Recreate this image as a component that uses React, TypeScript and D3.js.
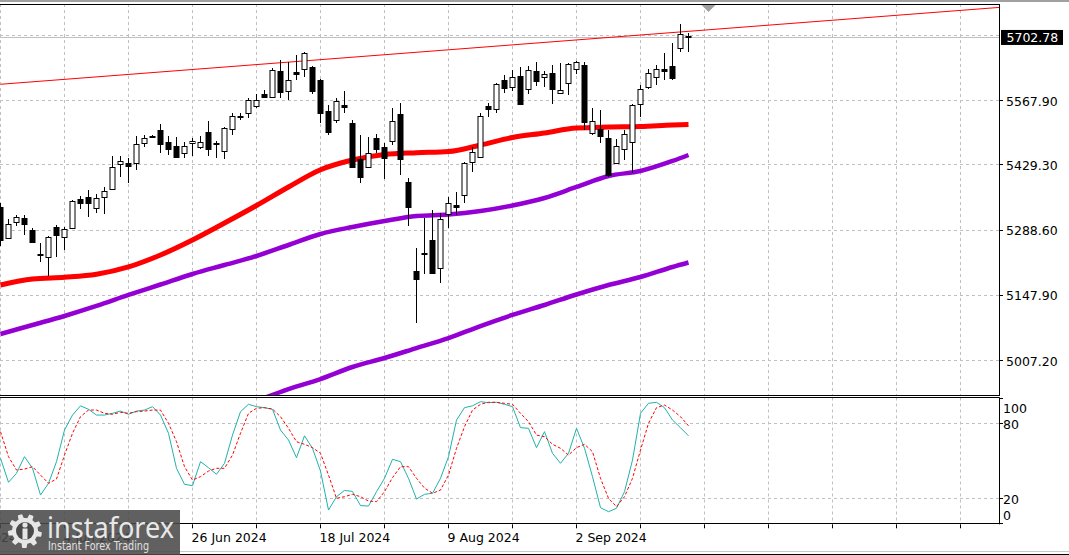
import React from 'react';
import * as d3 from 'd3';

// ---------- DATA ----------
const opens = [5337.1,5270.3,5304.8,5313.4,5287.6,5235.8,5229.3,5294.0,5272.5,5291.9,
5354.4,5358.7,5335.0,5358.7,5376.0,5429.9,5432.0,5432.0,5475.2,5490.3,
5503.2,5477.4,5468.7,5453.6,5475.2,5466.6,5498.9,5475.2,5457.9,5505.4,
5533.4,5539.9,5555.0,5580.8,5574.4,5630.4,5587.3,5628.3,5634.8,5639.1,
5611.0,5544.2,5524.8,5557.1,5518.3,5440.7,5423.4,5486.0,5466.6,5479.5,
5537.7,5391.1,5199.1,5237.9,5266.0,5205.6,5322.1,5341.5,5363.1,5434.2,
5445.0,5555.0,5548.5,5611.0,5595.9,5619.7,5591.6,5630.4,5617.5,5626.1,
5583.0,5604.6,5634.8,5643.4,5496.8,5505.4,5486.0,5432.0,5462.2,5477.4,
5559.3,5595.9,5617.5,5634.8,5641.2,5680.0,5705.9];
const highs = [5345.8,5311.3,5319.9,5319.9,5291.9,5259.5,5274.6,5298.3,5294.0,5352.3,
5360.9,5373.8,5365.2,5380.3,5447.1,5447.1,5442.8,5490.3,5492.5,5492.5,
5516.1,5490.3,5488.1,5477.4,5486.0,5490.3,5522.6,5479.5,5509.7,5539.9,
5539.9,5572.2,5580.8,5589.5,5636.9,5654.2,5649.8,5664.9,5671.4,5641.2,
5613.2,5557.1,5572.2,5587.3,5524.8,5492.5,5488.1,5494.6,5475.2,5550.6,
5561.4,5399.7,5248.7,5313.4,5330.7,5324.2,5358.7,5369.5,5434.2,5466.6,
5539.9,5561.4,5604.6,5621.8,5632.6,5639.1,5641.2,5649.8,5630.4,5643.4,
5647.7,5647.7,5652.0,5649.8,5550.6,5546.4,5503.2,5483.8,5503.2,5559.3,
5600.2,5634.8,5643.4,5669.3,5690.8,5731.8,5712.4];
const lows = [5253.0,5268.1,5296.2,5276.8,5259.5,5218.5,5188.3,5229.3,5244.4,5289.7,
5332.8,5315.6,5324.2,5322.1,5373.8,5401.9,5388.9,5417.0,5466.6,5486.0,
5453.6,5449.3,5442.8,5442.8,5447.1,5462.2,5447.1,5442.8,5440.7,5492.5,
5524.8,5529.1,5550.6,5572.2,5574.4,5572.2,5567.9,5611.0,5617.5,5580.8,
5518.3,5492.5,5518.3,5539.9,5421.3,5388.9,5421.3,5453.6,5397.5,5470.9,
5406.2,5296.2,5087.0,5192.7,5194.8,5173.2,5291.9,5319.9,5345.8,5412.6,
5445.0,5531.2,5539.9,5583.0,5587.3,5557.1,5580.8,5598.1,5595.9,5559.3,
5580.8,5578.7,5624.0,5503.2,5492.5,5475.2,5401.9,5432.0,5438.5,5410.5,
5531.2,5591.6,5600.2,5611.0,5611.0,5671.4,5671.4];
const closes = [5266.0,5300.5,5315.6,5300.5,5261.7,5233.6,5272.5,5276.8,5289.7,5350.1,
5345.8,5345.8,5356.6,5371.7,5423.4,5436.4,5425.6,5473.0,5486.0,5488.1,
5473.0,5462.2,5445.0,5468.7,5479.5,5477.4,5462.2,5473.0,5507.5,5533.4,
5531.2,5567.9,5567.9,5574.4,5632.6,5585.2,5611.0,5624.0,5669.3,5587.3,
5539.9,5498.9,5565.7,5552.8,5423.4,5401.9,5453.6,5462.2,5442.8,5522.6,
5440.7,5337.1,5181.9,5235.8,5194.8,5311.3,5345.8,5337.1,5432.0,5455.8,
5533.4,5548.5,5602.4,5593.8,5617.5,5559.3,5632.6,5608.9,5624.0,5591.6,
5589.5,5645.5,5649.8,5520.5,5522.6,5490.3,5406.2,5468.7,5494.6,5557.1,
5591.6,5626.1,5634.8,5630.4,5615.3,5710.2,5702.78];

const maIdx = [0,4,8,12,16,20,24,28,32,36,40,44,48,52,56,60,64,68,72,76,80,84,86];
const redMA = [5168.9,5181.9,5185.6,5192.0,5207.8,5233.6,5266.0,5302.6,5340.4,5380.3,5417.5,5438.5,5450.4,5454.2,5456.8,5470.9,5487.0,5496.8,5507.5,5509.7,5510.8,5514.0,5515.1];
const purpleMA1 = [5063.3,5082.7,5102.1,5123.7,5147.4,5170.0,5192.7,5212.1,5231.5,5255.2,5278.9,5294.0,5306.9,5317.7,5321.0,5328.5,5340.4,5356.6,5380.3,5404.0,5414.8,5436.4,5449.3];
const ma2Idx = [32,36,40,44,48,52,56,60,64,68,72,76,80,84,86];
const purpleMA2 = [4918.8,4944.6,4966.2,4992.1,5011.5,5033.0,5054.6,5080.5,5104.3,5125.8,5148.5,5169.0,5186.2,5207.8,5217.5];

const stochMain = [52,32.8,40,53.3,44,22.6,32,49.3,74.6,86.6,
94,91.2,86.6,86.6,88,89.8,87.2,89.8,90.6,93.3,
86.6,72,44,31.2,30.1,49.3,44.5,39.2,48,70.6,
89.3,95.2,93.3,92.5,91.2,74.6,66.6,52.5,70,60,
41.8,10.6,21.3,26.3,25.5,14.2,13.8,25.3,36,51.2,
49.3,36,19.4,23.2,24,36,53.3,82.6,92.5,94,
97.3,96.5,96.8,95.2,93.3,76.5,76,60.5,73.3,56,
48,56,76,60,37.3,12.5,9.3,12,25.3,50.6,
88,96,96.8,92.5,82.6,76.5,70];
const stochSignal = [73.3,53.3,42.6,43.4,45.3,38.6,32,35.4,54.6,72,
85.3,90.6,90.6,88,87.2,88.8,88,89.3,89.8,90.6,
90.6,80,65.3,45.3,34.6,37.3,41.8,44,44,54.6,
72,88,92,92.5,91.4,85.3,76,65.3,63.2,60.5,
56,38.6,20,21.3,23.2,21.3,17.8,17.3,25.3,36.5,
45.3,45.3,36,28.2,24,26.6,38.6,60,77.3,90.6,
95.2,96.8,96.8,96,95.2,88,81.3,70.6,69.3,63.2,
60,54.6,60.5,63.2,57.3,36,20,13.3,21.3,36,
58.6,80,92.5,94.6,90.6,85.3,78];

const trendIdx = [0, 86];
const trendVals = [5601.8, 5716.0];

const priceTicks = [5567.9, 5429.3, 5288.6, 5147.9, 5007.2];
const priceTickLabels = ['5567.90', '5429.30', '5288.60', '5147.90', '5007.20'];
const priceGridTop = 5708.1;
const lastPrice = 5702.78;
const lastPriceLabel = '5702.78';

const dateIdx = [-8, 8, 24, 40, 56, 72];
const dateLabels = ['13 May 2024', '4 Jun 2024', '26 Jun 2024', '18 Jul 2024', '9 Aug 2024', '2 Sep 2024'];
const oscLevels = [80, 20];
const oscLabelVals = ['100', '80', '20', '0'];

// ---------- LAYOUT ----------
const W = 1069, H = 555;
const R = 999;
const mainTop = 4, mainBottom = 395;
const oscTop = 397.5, oscBottom = 523.3;
const FONT = '"DejaVu Sans", sans-serif';
const FS = 12.5;

function gearPath(cx: number, cy: number, ro: number, ri: number, n: number) {
  const pts: [number, number][] = [];
  for (let k = 0; k < n; k++) {
    const a0 = (k / n) * Math.PI * 2;
    const step = (Math.PI * 2) / n;
    const angs = [a0, a0 + step * 0.12, a0 + step * 0.38, a0 + step * 0.5, a0 + step * 0.62, a0 + step * 0.88];
    const rads = [ri, ro, ro, ro, ri, ri];
    angs.forEach((a, j) => pts.push([cx + rads[j] * Math.cos(a), cy + rads[j] * Math.sin(a)]));
  }
  return 'M' + pts.map(p => p[0].toFixed(1) + ',' + p[1].toFixed(1)).join('L') + 'Z';
}

export default function App() {
  const x = d3.scaleLinear().domain([0, 1]).range([0.5, 8.5]);
  const y = d3.scaleLinear().domain([5007.2, 5567.9]).range([360, 100]);
  const yo = d3.scaleLinear().domain([0, 100]).range([523.3, 398.3]);

  const gridX: number[] = [];
  for (let i = 0; i <= 124; i += 8) gridX.push(i);

  const lineMA = d3.line<number>().x((_, k) => x(maIdx[k])).y(v => y(v)).curve(d3.curveMonotoneX);
  const lineMA2 = d3.line<number>().x((_, k) => x(ma2Idx[k])).y(v => y(v)).curve(d3.curveMonotoneX);
  const lineOsc = d3.line<number>().x((_, k) => x(k)).y(v => yo(v));

  const slope = (trendVals[1] - trendVals[0]) / (trendIdx[1] - trendIdx[0]);
  const endIdx = x.invert(R);
  const trendEnd = trendVals[0] + slope * (endIdx - trendIdx[0]);

  const lastY = y(lastPrice);
  const shiftX = x(88.5);

  return (
    <svg width={W} height={H} style={{ position: 'absolute', left: 0, top: 0, background: '#fff' }} fontFamily={FONT}>
      <defs>
        <clipPath id="mainClip"><rect x={0} y={mainTop} width={R} height={mainBottom - mainTop} /></clipPath>
        <clipPath id="oscClip"><rect x={0} y={oscTop} width={R} height={oscBottom - oscTop} /></clipPath>
      </defs>
      <rect x={0} y={0} width={W} height={H} fill="#fff" />
      <rect x={0} y={0} width={W} height={2} fill="#a0a0a0" />

      {/* grid main */}
      <g stroke="#c0c0c0" strokeWidth={1} strokeDasharray="3,3">
        {gridX.map(i => (
          <line key={'gv' + i} x1={x(i)} x2={x(i)} y1={mainTop} y2={mainBottom} />
        ))}
        {[priceGridTop, ...priceTicks].map(p => (
          <line key={'gh' + p} x1={0} x2={R} y1={Math.round(y(p)) + 0.5} y2={Math.round(y(p)) + 0.5} />
        ))}
        {gridX.map(i => (
          <line key={'gvo' + i} x1={x(i)} x2={x(i)} y1={oscTop} y2={oscBottom} />
        ))}
        {oscLevels.map(l => (
          <line key={'gho' + l} x1={0} x2={R} y1={Math.round(yo(l)) + 0.5} y2={Math.round(yo(l)) + 0.5} />
        ))}
      </g>

      {/* last price line */}
      <line x1={0} x2={R} y1={Math.round(lastY) + 0.5} y2={Math.round(lastY) + 0.5} stroke="#c0c0c0" strokeWidth={1} />

      <g clipPath="url(#mainClip)">
        {/* trend line */}
        <line x1={x(0)} y1={y(trendVals[0])} x2={R} y2={y(trendEnd)} stroke="#ff0000" strokeWidth={1} />
        {/* moving averages */}
        <path d={lineMA2(purpleMA2) || ''} fill="none" stroke="#9400d3" strokeWidth={4.5} />
        <path d={lineMA(purpleMA1) || ''} fill="none" stroke="#9400d3" strokeWidth={4.5} />
        <path d={lineMA(redMA) || ''} fill="none" stroke="#ff0000" strokeWidth={5} />
        {/* candles */}
        {opens.map((o, i) => {
          const c = closes[i];
          const cx = Math.round(x(i) - 0.5) + 0.5;
          const top = Math.round(y(Math.max(o, c)));
          const bot = Math.round(y(Math.min(o, c)));
          const bull = c > o;
          return (
            <g key={'c' + i}>
              <line x1={cx} x2={cx} y1={Math.round(y(highs[i]))} y2={Math.round(y(lows[i]))} stroke="#000" strokeWidth={1} />
              <rect x={cx - 2.5} y={top + 0.5} width={5} height={Math.max(bot - top, 1)} fill={bull ? '#fff' : '#000'} stroke="#000" strokeWidth={1} />
            </g>
          );
        })}
      </g>

      {/* chart shift marker */}
      <polygon points={`${shiftX - 7},${mainTop + 1} ${shiftX + 7},${mainTop + 1} ${shiftX},${mainTop + 8}`} fill="#a0a0a0" />

      {/* oscillator */}
      <g clipPath="url(#oscClip)">
        <path d={lineOsc(stochMain) || ''} fill="none" stroke="#20b2aa" strokeWidth={1} />
        <path d={lineOsc(stochSignal) || ''} fill="none" stroke="#ff0000" strokeWidth={1} strokeDasharray="3,2" />
      </g>

      {/* frames */}
      <g stroke="#000" strokeWidth={1} fill="none">
        <line x1={0} x2={R + 0.5} y1={mainTop + 0.5} y2={mainTop + 0.5} />
        <line x1={0} x2={R + 0.5} y1={mainBottom + 0.5} y2={mainBottom + 0.5} />
        <line x1={R + 0.5} x2={R + 0.5} y1={mainTop} y2={mainBottom + 1} />
        <line x1={0} x2={R + 0.5} y1={oscTop} y2={oscTop} />
        <line x1={0} x2={R + 0.5} y1={Math.round(oscBottom) + 0.5} y2={Math.round(oscBottom) + 0.5} />
        <line x1={R + 0.5} x2={R + 0.5} y1={oscTop} y2={oscBottom + 1} />
        {priceTicks.map(p => (
          <line key={'pt' + p} x1={R} x2={R + 4} y1={Math.round(y(p)) + 0.5} y2={Math.round(y(p)) + 0.5} />
        ))}
        {[100, 80, 20, 0].map(l => (
          <line key={'ot' + l} x1={R} x2={R + 4} y1={Math.round(yo(l)) + 0.5} y2={Math.round(yo(l)) + 0.5} />
        ))}
        {gridX.map(i => (
          <line key={'dt' + i} x1={x(i)} x2={x(i)} y1={oscBottom + 1} y2={oscBottom + 5} />
        ))}
      </g>

      {/* price axis labels */}
      <g fontSize={FS} fill="#000">
        {priceTicks.map((p, k) => (
          <text key={'pl' + p} x={1006} y={y(p) + 5.5}>{priceTickLabels[k]}</text>
        ))}
      </g>
      <rect x={1001} y={lastY - 7.5} width={62} height={15} fill="#000" />
      <text x={1006.5} y={lastY + 5} fontSize={FS} fill="#fff">{lastPriceLabel}</text>

      {/* osc labels */}
      <g fontSize={FS} fill="#000">
        <text x={1003} y={413.3}>{oscLabelVals[0]}</text>
        <text x={1003} y={yo(80) + 5.7}>{oscLabelVals[1]}</text>
        <text x={1003} y={yo(20) + 5.7}>{oscLabelVals[2]}</text>
        <text x={1003} y={520}>{oscLabelVals[3]}</text>
      </g>

      {/* date labels */}
      <g fontSize={FS} fill="#000">
        {dateIdx.map((d, k) => (
          <text key={'dl' + d} x={x(d) - 1} y={542}>{dateLabels[k]}</text>
        ))}
      </g>

      {/* bottom lines */}
      <line x1={0} x2={W} y1={551.5} y2={551.5} stroke="#c8c8c8" strokeWidth={1} />
      <line x1={0} x2={W} y1={554.5} y2={554.5} stroke="#000" strokeWidth={1} />

      {/* watermark logo */}
      <g>
        <rect x={0} y={510} width={180} height={45} fill="#4a4a4a" opacity={0.88} />
        <path d={gearPath(25, 531, 17, 13, 9)} fill="#e6e6e6" />
        <circle cx={25} cy={531} r={9} fill="#4a4a4a" />
        <circle cx={25} cy={525} r={2.6} fill="#e6e6e6" />
        <rect x={22.5} y={528.5} width={5} height={11} fill="#e6e6e6" />
        <text x={47} y={537.5} fontSize={29} fill="#e8e8e8" fontFamily='"Noto Sans", sans-serif' textLength={127} lengthAdjust="spacingAndGlyphs">instaforex</text>
        <text x={48} y={550} fontSize={11.5} fill="#e0e0e0" fontFamily='"DejaVu Sans", sans-serif' textLength={101} lengthAdjust="spacingAndGlyphs">Instant Forex Trading</text>
      </g>
    </svg>
  );
}
